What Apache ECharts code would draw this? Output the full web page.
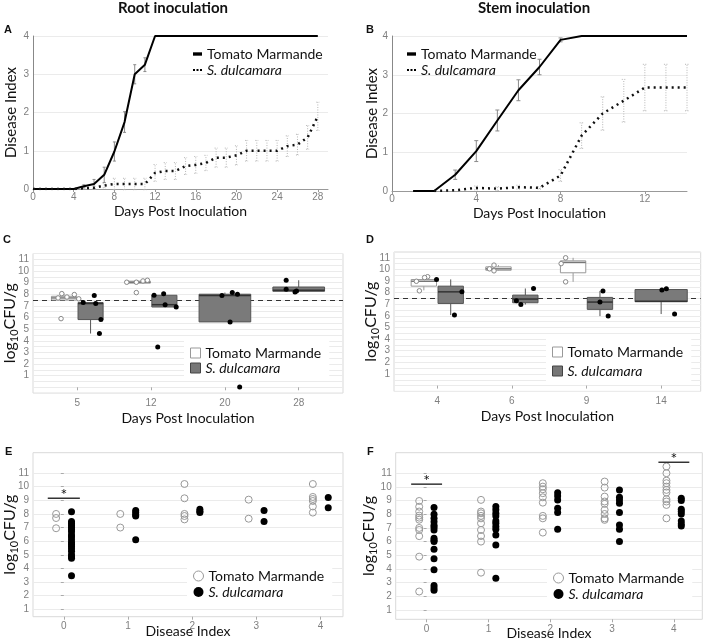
<!DOCTYPE html>
<html>
<head>
    <meta charset="utf-8">
    <title>Root and stem inoculation</title>
    <script src="https://cdn.jsdelivr.net/npm/echarts@6/dist/echarts.min.js"></script>
    <style>
        html, body { margin: 0; padding: 0; background: #fff; }
        #chart { width: 708px; height: 644px; }
    </style>
</head>
<body>
<div id="chart"></div>
<script type="text/javascript">
    // ---- A: root inoculation, disease index per day ----
    var daysA = [0,1,2,3,4,5,6,7,8,9,10,11,12,13,14,15,16,17,18,19,20,21,22,23,24,25,26,27,28];
    var tomA = [0,0,0,0,0,0.07,0.13,0.37,0.98,1.75,3.0,3.25,4,4,4,4,4,4,4,4,4,4,4,4,4,4,4,4,4];
    var tomSdA = [0,0,0,0,0,0.04,0.12,0.2,0.25,0.27,0.25,0.18,0,0,0,0,0,0,0,0,0,0,0,0,0,0,0,0,0];
    var dulA = [0,0,0,0,0,0.02,0.03,0.09,0.13,0.13,0.13,0.13,0.42,0.47,0.47,0.6,0.63,0.68,0.82,0.82,0.88,1.0,1.0,1.0,1.0,1.12,1.16,1.35,1.9];
    var dulSdA = [0,0,0,0,0,0.02,0.04,0.06,0.15,0.15,0.15,0.15,0.22,0.22,0.22,0.22,0.22,0.2,0.25,0.25,0.25,0.27,0.27,0.27,0.27,0.27,0.27,0.31,0.37];
    var xTicksA = [0,4,8,12,16,20,24,28];

    // ---- B: stem inoculation ----
    var daysTomB = [1,2,3,4,5,6,7,8,9,10,11,12,13,14];
    var tomB = [0,0,0.42,1.03,1.82,2.6,3.2,3.9,4,4,4,4,4,4];
    var tomSdB = [0,0,0.12,0.27,0.27,0.27,0.2,0.05,0,0,0,0,0,0];
    var daysDulB = [2,3,4,5,6,7,8,9,10,11,12,13,14];
    var dulB = [0,0.02,0.08,0.06,0.1,0.08,0.4,1.43,2.0,2.33,2.67,2.67,2.67];
    var dulSdB = [0,0,0.05,0.05,0.05,0.03,0.15,0.33,0.43,0.55,0.6,0.6,0.6];
    var xTicksB = [0,4,8,12];

    var yTicksCfu = [1,2,3,4,5,6,7,8,9,10,11];

    // ---- C: root, log10 CFU/g boxes (low, q1, median, q3, high) ----
    var daysC = ['5','12','20','28'];
    var tomBoxC = [[7.5,7.5,7.68,7.82,8.05],[9.03,8.95,9.03,9.12,9.2],null,null];
    var dulBoxC = [[4.62,5.82,7.2,7.28,7.28],[6.9,6.9,7.1,7.91,8.05],[5.62,5.62,7.88,8.0,8.14],[8.2,8.25,8.34,8.62,9.2]];
    var tomPtsC = [[0.78,5.9],[0.74,7.68],[0.79,8.05],[0.86,7.76],[0.96,7.97],[1.02,7.6],
                   [1.67,9.03],[1.8,9.03],[1.89,9.14],[1.95,9.2],[1.8,8.14]];
    var dulPtsC = [[1.08,7.28],[1.23,7.9],[1.25,7.2],[1.32,5.82],[1.3,4.62],
                   [2.04,7.91],[2.17,8.05],[2.19,7.1],[2.34,6.9],[2.09,3.47],
                   [2.96,7.88],[3.1,8.14],[3.17,8.0],[3.07,5.62],[3.2,0.03],
                   [3.83,9.2],[3.83,8.42],[3.95,8.2],[3.97,8.28]];
    var thresholdC = 7.5;

    // ---- D: stem, log10 CFU/g boxes ----
    var daysD = ['4','6','9','14'];
    var tomBoxD = [[8.2,8.56,8.98,9.13,9.37],[9.88,9.93,10.05,10.22,10.37],[8.93,9.71,10.6,10.74,11.0],null];
    var dulBoxD = [[6.07,7.07,8.07,8.56,9.14],[6.98,7.13,7.45,7.79,8.36],[5.98,6.56,7.19,7.59,8.15],[6.16,7.22,7.25,8.27,8.33]];
    var tomPtsD = [[0.72,8.98],[0.76,8.16],[0.87,9.37],[0.83,9.3],
                   [1.76,10.37],[1.76,9.88],[1.7,10.05],
                   [2.72,11.0],[2.66,10.5],[2.72,8.93]];
    var dulPtsD = [[0.99,9.14],[1.33,8.07],[1.23,6.07],
                   [2.06,7.3],[2.12,6.98],[2.29,8.36],
                   [3.22,8.15],[3.18,7.19],[3.29,5.98],
                   [4.01,8.22],[4.07,8.33],[4.18,6.16]];
    var thresholdD = 7.5;

    // ---- E: root, CFU vs disease index ----
    var diE = [0,1,2,3,4];
    var tomE = [[8.0,7.7,6.95],[8.0,7.0],[10.2,9.15,8.0,7.85,7.6],[9.05,7.65],[10.2,9.25,9.1,8.95,8.55,8.1]];
    var dulE = [[8.17,7.45,7.3,7.15,7.0,6.85,6.7,6.45,6.3,6.1,5.9,5.75,5.6,5.45,5.25,5.0,4.85,4.75,3.45],
                [8.25,8.1,7.95,7.85,6.1],[8.35,8.2,8.1],[8.25,7.45],[9.2,8.45]];
    var sigE = [[-0.25,0.25,9.16]];

    // ---- F: stem, CFU vs disease index ----
    var diF = [0,1,2,3,4];
    var tomF = [[8.97,8.55,8.2,7.9,7.75,7.6,7.0,6.85,6.4,4.9,2.35],
                [9.05,8.2,8.07,7.88,7.7,7.34,6.85,6.41,6.0,3.73],
                [10.27,10.02,9.83,9.54,9.24,8.85,7.88,7.7,6.66],
                [10.39,9.95,9.29,8.93,8.76,8.32,8.02,7.7,7.59],
                [11.49,11.0,10.46,10.27,10.02,9.78,9.59,9.1,8.93,8.68,7.7]];
    var dulF = [[8.5,8.0,7.7,7.45,7.2,7.05,6.85,6.25,6.1,6.0,5.45,4.75,3.95,2.8,2.6,2.45],
                [8.56,8.32,8.07,7.88,7.51,7.34,7.1,6.9,6.49,5.76,3.32],
                [9.58,9.34,9.05,8.44,8.12,6.9],
                [9.78,9.24,9.05,8.8,8.12,7.22,6.9,6.0],
                [9.17,9.0,8.37,8.2,8.02,7.51,7.29,7.15]];
    var sigF = [[-0.25,0.25,10.2],[3.75,4.25,11.8]];

    var myChart = echarts.init(document.getElementById('chart'));

    var tickLabel = {color: '#7f7f7f', fontSize: 10, fontFamily: 'Liberation Sans'};
    var axisTitle = {color: '#111', fontSize: 14, fontFamily: 'Lato'};
    var cfuTitle = {
        color: '#111', fontFamily: 'Lato',
        rich: {
            a: {fontSize: 16, fontFamily: 'Lato', color: '#111'},
            s: {fontSize: 11, fontFamily: 'Lato', color: '#111', verticalAlign: 'bottom', padding: [9, 0, 0, 0]}
        }
    };
    var cfuName = '{a|log}{s|10}{a|CFU/g}';

    function pairs(xs, ys) {
        return xs.map(function (x, i) { return [x, ys[i]]; });
    }
    function errData(xs, ys, sds) {
        return xs.map(function (x, i) { return [x, ys[i], sds[i]]; });
    }
    function boxData(boxes, other, side) {
        var out = [];
        boxes.forEach(function (b, i) {
            if (!b) return;
            var alone = !other[i];
            var c = alone ? i + 1 : i + 1 + side * 0.18;
            out.push([c].concat(b).concat([alone ? 0.35 : 0.17]));
        });
        return out;
    }
    function colPts(xs, cols, off) {
        var out = [];
        cols.forEach(function (col, i) {
            col.forEach(function (v) { out.push([xs[i] + off, v]); });
        });
        return out;
    }

    function renderErr(color, dash, cap) {
        return function (params, api) {
            var x = api.value(0), m = api.value(1), sd = api.value(2);
            if (!sd) return {type: 'group', children: []};
            var lo = api.coord([x, m - sd]), hi = api.coord([x, m + sd]);
            var st = {stroke: color, lineWidth: 1, lineDash: dash};
            return {type: 'group', children: [
                {type: 'line', shape: {x1: lo[0], y1: lo[1], x2: hi[0], y2: hi[1]}, style: st},
                {type: 'line', shape: {x1: lo[0] - cap, y1: lo[1], x2: lo[0] + cap, y2: lo[1]}, style: st},
                {type: 'line', shape: {x1: hi[0] - cap, y1: hi[1], x2: hi[0] + cap, y2: hi[1]}, style: st}
            ]};
        };
    }

    function renderBox(fill, stroke, medColor) {
        return function (params, api) {
            var c = api.value(0), hw = api.value(6);
            var low = api.coord([c, api.value(1)]);
            var q1 = api.coord([c - hw, api.value(2)]);
            var q3 = api.coord([c + hw, api.value(4)]);
            var mL = api.coord([c - hw, api.value(3)]);
            var mR = api.coord([c + hw, api.value(3)]);
            var high = api.coord([c, api.value(5)]);
            var st = {stroke: stroke, lineWidth: 1};
            return {type: 'group', children: [
                {type: 'line', shape: {x1: low[0], y1: low[1], x2: low[0], y2: q1[1]}, style: st},
                {type: 'line', shape: {x1: high[0], y1: q3[1], x2: high[0], y2: high[1]}, style: st},
                {type: 'rect', shape: {x: q1[0], y: q3[1], width: q3[0] - q1[0], height: q1[1] - q3[1]},
                    style: {fill: fill, stroke: stroke, lineWidth: 1}},
                {type: 'line', shape: {x1: mL[0], y1: mL[1], x2: mR[0], y2: mR[1]}, style: {stroke: medColor, lineWidth: 1.5}}
            ]};
        };
    }

    function renderSig(params, api) {
        var a = api.coord([api.value(0), api.value(2)]);
        var b = api.coord([api.value(1), api.value(2)]);
        return {type: 'group', children: [
            {type: 'line', shape: {x1: a[0], y1: a[1], x2: b[0], y2: b[1]}, style: {stroke: '#333', lineWidth: 1.5}},
            {type: 'text', x: (a[0] + b[0]) / 2, y: a[1] - 3,
                style: {text: '*', fill: '#111', font: '16px Lato', textAlign: 'center', align: 'center',
                    textVerticalAlign: 'middle', verticalAlign: 'middle'}}
        ]};
    }

    function diseaseX(gi, max, ticks) {
        return {
            gridIndex: gi, type: 'value', min: 0, max: max,
            axisLine: {show: true, onZero: false, lineStyle: {color: '#999'}},
            axisTick: {show: true, length: 3, customValues: ticks, lineStyle: {color: '#999'}},
            axisLabel: Object.assign({customValues: ticks, margin: 3}, tickLabel),
            splitLine: {show: false},
            name: 'Days Post Inoculation', nameLocation: 'middle', nameGap: 15, nameMoveOverlap: false,
            nameTextStyle: axisTitle
        };
    }
    function diseaseY(gi, gap) {
        return {
            gridIndex: gi, type: 'value', min: 0, max: 4, interval: 1,
            axisLine: {show: true, lineStyle: {color: '#888'}},
            axisTick: {show: false},
            axisLabel: Object.assign({margin: 4}, tickLabel),
            splitLine: {lineStyle: {color: '#ebebeb'}},
            name: 'Disease Index', nameLocation: 'middle', nameGap: gap, nameMoveOverlap: false,
            nameTextStyle: Object.assign({}, axisTitle, {fontSize: 15})
        };
    }
    function catX(gi, min, max, cats) {
        var pos = cats.map(function (c, i) { return i + 1; });
        return {
            gridIndex: gi, type: 'value', min: min, max: max,
            axisLine: {show: false},
            axisTick: {show: true, length: 3, customValues: pos, lineStyle: {color: '#aaa'}},
            axisLabel: Object.assign({customValues: pos, margin: 5, formatter: function (v) {
                return cats[Math.round(v) - 1];
            }}, tickLabel),
            splitLine: {show: false},
            name: 'Days Post Inoculation', nameLocation: 'middle', nameGap: 18, nameMoveOverlap: false,
            nameTextStyle: axisTitle
        };
    }
    function cfuHalfY(gi) {
        return {
            gridIndex: gi, type: 'value', min: -0.5, max: 11.5, interval: 0.5,
            axisLine: {show: false}, axisTick: {show: false},
            axisLabel: Object.assign({margin: 4, formatter: function (v) {
                return (v >= 1 && v <= 11 && v === Math.round(v)) ? String(v) : '';
            }}, tickLabel),
            splitLine: {lineStyle: {color: '#ebebeb'}},
            name: cfuName, nameLocation: 'middle', nameGap: 13, nameMoveOverlap: false, nameTextStyle: cfuTitle
        };
    }
    function diX(gi, min, max, ticks, gap) {
        return {
            gridIndex: gi, type: 'value', min: min, max: max,
            axisLine: {show: false},
            axisTick: {show: true, length: 3, customValues: ticks, lineStyle: {color: '#aaa'}},
            axisLabel: Object.assign({customValues: ticks, margin: 5}, tickLabel),
            splitLine: {show: false},
            name: 'Disease Index', nameLocation: 'middle', nameGap: gap, nameMoveOverlap: false,
            nameTextStyle: axisTitle
        };
    }
    function cfuY(gi, min, gap) {
        return {
            gridIndex: gi, type: 'value', min: min, max: 12.5,
            axisLine: {show: false},
            axisTick: {show: true, length: 3, customValues: yTicksCfu, lineStyle: {color: '#aaa'}},
            axisLabel: Object.assign({customValues: yTicksCfu, margin: 4}, tickLabel),
            splitLine: {lineStyle: {color: '#ebebeb'}},
            name: cfuName, nameLocation: 'middle', nameGap: gap, nameMoveOverlap: false, nameTextStyle: cfuTitle
        };
    }

    var panelGrid = {show: true, borderColor: '#d9d9d9', borderWidth: 1};
    function g(l, t, w, h, framed) {
        return Object.assign({left: l, top: t, width: w, height: h, outerBoundsMode: 'none', containLabel: false},
            framed ? panelGrid : {});
    }

    var lineIcon = 'path://M0,0h8v3h-8z';
    var dotIcon = 'path://M0,0h2v2h-2zM3.5,0h2v2h-2zM7,0h2v2h-2z';
    var legendText = {fontFamily: 'Lato', fontSize: 14, color: '#111'};
    var italic = {fontStyle: 'italic', fontFamily: 'Lato', fontSize: 14, color: '#111'};

    function lineLegend(left, top) {
        return {
            left: left, top: top, orient: 'vertical', padding: 0, itemGap: 2,
            itemWidth: 9, itemHeight: 9, textStyle: legendText, selectedMode: false,
            data: [
                {name: 'Tomato Marmande', icon: lineIcon, itemStyle: {color: '#000', borderWidth: 0}},
                {name: 'S. dulcamara', icon: dotIcon, itemStyle: {color: '#000', borderWidth: 0}, textStyle: italic}
            ]
        };
    }
    function boxLegend(left, top, gap) {
        return {
            left: left, top: top, orient: 'vertical', padding: [6, 8, 6, 6], itemGap: gap,
            itemWidth: 10, itemHeight: 10, textStyle: legendText, backgroundColor: '#fff', selectedMode: false,
            data: [
                {name: 'Tomato Marmande', icon: 'rect', itemStyle: {color: '#fff', borderColor: '#999', borderWidth: 1}},
                {name: 'S. dulcamara', icon: 'rect', itemStyle: {color: '#777', borderColor: '#444', borderWidth: 1}, textStyle: italic}
            ]
        };
    }
    function dotLegend(left, top) {
        return {
            left: left, top: top, orient: 'vertical', padding: [6, 8, 6, 6], itemGap: 2,
            itemWidth: 10, itemHeight: 10, textStyle: legendText, backgroundColor: '#fff', selectedMode: false,
            data: [
                {name: 'Tomato Marmande', icon: 'circle', itemStyle: {color: '#fff', borderColor: '#999', borderWidth: 1}},
                {name: 'S. dulcamara', icon: 'circle', itemStyle: {color: '#000', borderWidth: 0}, textStyle: italic}
            ]
        };
    }

    function threshold(gi, value) {
        return {
            type: 'scatter', xAxisIndex: gi, yAxisIndex: gi, data: [], silent: true, z: 1,
            markLine: {
                silent: true, symbol: 'none', z: 1, label: {show: false},
                lineStyle: {color: '#333', type: [5, 4], width: 1.2},
                data: [{yAxis: value}]
            }
        };
    }

    var option = {
        animation: false,
        backgroundColor: '#fff',
        grid: [
            g(33, 36, 295, 153, false),
            g(392, 36, 295, 155, false),
            g(33, 253.5, 310, 139.6, true),
            g(394, 252, 306.7, 139.4, true),
            g(33, 452.7, 310, 164, true),
            g(395.7, 452.7, 306.6, 166.6, true)
        ],
        xAxis: [
            diseaseX(0, 29, xTicksA),
            diseaseX(1, 14, xTicksB),
            catX(2, 0.4, 4.6, daysC),
            catX(3, 0.42, 4.53, daysD),
            diX(4, -0.48, 4.35, diE, 8),
            diX(5, -0.5, 4.46, diF, 7)
        ],
        yAxis: [
            diseaseY(0, 14),
            diseaseY(1, 12),
            cfuHalfY(2),
            cfuHalfY(3),
            cfuY(4, 0.45, 13),
            cfuY(5, 0.32, 17)
        ],
        legend: [
            lineLegend(193, 47),
            lineLegend(407, 47),
            boxLegend(184, 340, 1),
            boxLegend(546, 339, 5),
            dotLegend(187, 563),
            dotLegend(547, 565)
        ],
        graphic: [
            {type: 'text', x: 173, y: 1, style: {text: 'Root inoculation', font: 'bold 15px Lato', fill: '#111', textAlign: 'center', align: 'center'}},
            {type: 'text', x: 534, y: 1, style: {text: 'Stem inoculation', font: 'bold 15px Lato', fill: '#111', textAlign: 'center', align: 'center'}},
            {type: 'text', x: 4, y: 24, style: {text: 'A', font: 'bold 11px "Liberation Sans"', fill: '#111'}},
            {type: 'text', x: 366, y: 24, style: {text: 'B', font: 'bold 11px "Liberation Sans"', fill: '#111'}},
            {type: 'text', x: 3, y: 234, style: {text: 'C', font: 'bold 11px "Liberation Sans"', fill: '#111'}},
            {type: 'text', x: 366, y: 234, style: {text: 'D', font: 'bold 11px "Liberation Sans"', fill: '#111'}},
            {type: 'text', x: 5, y: 446, style: {text: 'E', font: 'bold 11px "Liberation Sans"', fill: '#111'}},
            {type: 'text', x: 367, y: 446, style: {text: 'F', font: 'bold 11px "Liberation Sans"', fill: '#111'}}
        ],
        series: [
            // A
            {type: 'line', name: 'Tomato Marmande', xAxisIndex: 0, yAxisIndex: 0, data: pairs(daysA, tomA),
                symbol: 'none', lineStyle: {color: '#000', width: 2}, itemStyle: {color: '#000'}, z: 4},
            {type: 'line', name: 'S. dulcamara', xAxisIndex: 0, yAxisIndex: 0, data: pairs(daysA, dulA),
                symbol: 'none', lineStyle: {color: '#111', width: 2.5, type: [2, 4]}, itemStyle: {color: '#111'}, z: 4},
            {type: 'custom', xAxisIndex: 0, yAxisIndex: 0, data: errData(daysA, tomA, tomSdA),
                renderItem: renderErr('#8a8a8a', null, 1.5), encode: {x: 0, y: 1}, z: 3},
            {type: 'custom', xAxisIndex: 0, yAxisIndex: 0, data: errData(daysA, dulA, dulSdA),
                renderItem: renderErr('#b5b5b5', [1, 1.5], 1.5), encode: {x: 0, y: 1}, z: 3},
            // B
            {type: 'line', name: 'Tomato Marmande', xAxisIndex: 1, yAxisIndex: 1, data: pairs(daysTomB, tomB),
                symbol: 'none', lineStyle: {color: '#000', width: 2}, itemStyle: {color: '#000'}, z: 4},
            {type: 'line', name: 'S. dulcamara', xAxisIndex: 1, yAxisIndex: 1, data: pairs(daysDulB, dulB),
                symbol: 'none', lineStyle: {color: '#111', width: 2.5, type: [2, 4]}, itemStyle: {color: '#111'}, z: 4},
            {type: 'custom', xAxisIndex: 1, yAxisIndex: 1, data: errData(daysTomB, tomB, tomSdB),
                renderItem: renderErr('#8a8a8a', null, 2), encode: {x: 0, y: 1}, z: 3},
            {type: 'custom', xAxisIndex: 1, yAxisIndex: 1, data: errData(daysDulB, dulB, dulSdB),
                renderItem: renderErr('#b5b5b5', [1, 1.5], 2), encode: {x: 0, y: 1}, z: 3},
            // C
            threshold(2, thresholdC),
            {type: 'custom', xAxisIndex: 2, yAxisIndex: 2, data: boxData(tomBoxC, dulBoxC, -1),
                renderItem: renderBox('#fff', '#999', '#777'), encode: {x: 0, y: [1, 2, 3, 4, 5]}, z: 3},
            {type: 'custom', xAxisIndex: 2, yAxisIndex: 2, data: boxData(dulBoxC, tomBoxC, 1),
                renderItem: renderBox('#7a7a7a', '#555', '#333'), encode: {x: 0, y: [1, 2, 3, 4, 5]}, z: 3},
            {type: 'scatter', name: 'Tomato Marmande', xAxisIndex: 2, yAxisIndex: 2, data: tomPtsC, symbolSize: 4.5,
                itemStyle: {color: '#fff', borderColor: '#888', borderWidth: 1, opacity: 1}, z: 5},
            {type: 'scatter', name: 'S. dulcamara', xAxisIndex: 2, yAxisIndex: 2, data: dulPtsC, symbolSize: 5,
                itemStyle: {color: '#000', opacity: 1}, z: 5},
            // D
            threshold(3, thresholdD),
            {type: 'custom', xAxisIndex: 3, yAxisIndex: 3, data: boxData(tomBoxD, dulBoxD, -1),
                renderItem: renderBox('#fff', '#999', '#777'), encode: {x: 0, y: [1, 2, 3, 4, 5]}, z: 3},
            {type: 'custom', xAxisIndex: 3, yAxisIndex: 3, data: boxData(dulBoxD, tomBoxD, 1),
                renderItem: renderBox('#7a7a7a', '#555', '#333'), encode: {x: 0, y: [1, 2, 3, 4, 5]}, z: 3},
            {type: 'scatter', name: 'Tomato Marmande', xAxisIndex: 3, yAxisIndex: 3, data: tomPtsD, symbolSize: 4.5,
                itemStyle: {color: '#fff', borderColor: '#888', borderWidth: 1, opacity: 1}, z: 5},
            {type: 'scatter', name: 'S. dulcamara', xAxisIndex: 3, yAxisIndex: 3, data: dulPtsD, symbolSize: 5,
                itemStyle: {color: '#000', opacity: 1}, z: 5},
            // E
            {type: 'scatter', name: 'Tomato Marmande', xAxisIndex: 4, yAxisIndex: 4, data: colPts(diE, tomE, -0.12),
                symbolSize: 7, itemStyle: {color: 'rgba(255,255,255,0)', borderColor: '#999', borderWidth: 1, opacity: 1}, z: 4},
            {type: 'scatter', name: 'S. dulcamara', xAxisIndex: 4, yAxisIndex: 4, data: colPts(diE, dulE, 0.12),
                symbolSize: 7, itemStyle: {color: '#000', opacity: 1}, z: 4},
            {type: 'custom', xAxisIndex: 4, yAxisIndex: 4, data: sigE, renderItem: renderSig,
                encode: {x: [0, 1], y: 2}, z: 5},
            // F
            {type: 'scatter', name: 'Tomato Marmande', xAxisIndex: 5, yAxisIndex: 5, data: colPts(diF, tomF, -0.12),
                symbolSize: 7, itemStyle: {color: 'rgba(255,255,255,0)', borderColor: '#999', borderWidth: 1, opacity: 1}, z: 4},
            {type: 'scatter', name: 'S. dulcamara', xAxisIndex: 5, yAxisIndex: 5, data: colPts(diF, dulF, 0.12),
                symbolSize: 7, itemStyle: {color: '#000', opacity: 1}, z: 4},
            {type: 'custom', xAxisIndex: 5, yAxisIndex: 5, data: sigF, renderItem: renderSig,
                encode: {x: [0, 1], y: 2}, z: 5}
        ]
    };

    myChart.setOption(option);
</script>
</body>
</html>
